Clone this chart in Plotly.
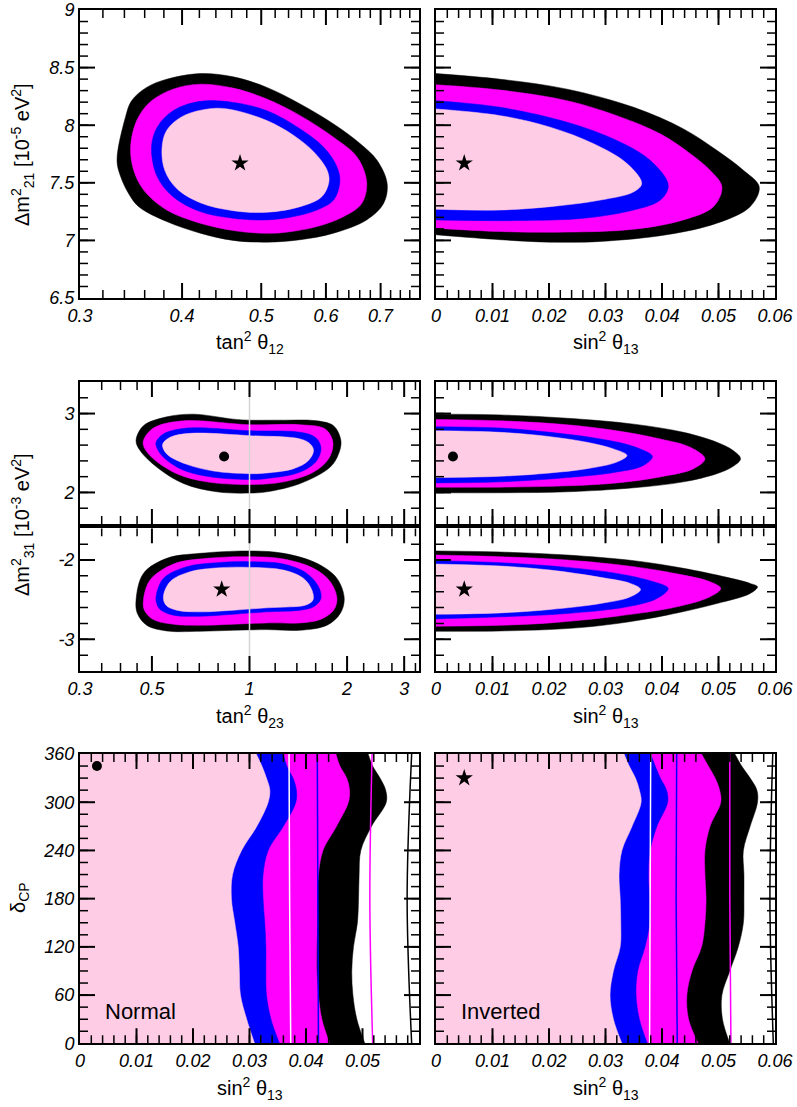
import numpy as np
import plotly.graph_objects as go

BLACK = "#000000"
MAGENTA = "#ff00ff"
BLUE = "#0000ff"
PINK = "#ffcce5"

# ---------------- panel 1: tan^2 th12 vs dm21 ----------------
t12_black_x = [0.333, 0.341, 0.347, 0.362, 0.383, 0.421, 0.462, 0.508, 0.558, 0.613, 0.661, 0.693,
               0.713, 0.706, 0.673, 0.613, 0.558, 0.508, 0.462, 0.421, 0.383, 0.354, 0.344, 0.3365]
t12_black_y = [7.695, 8.069, 8.213, 8.328, 8.399, 8.448, 8.42, 8.328, 8.184, 8.011, 7.839, 7.695,
               7.494, 7.322, 7.178, 7.063, 7.006, 6.985, 7.0, 7.063, 7.164, 7.293, 7.408, 7.552]
t12_mag_x = [0.346, 0.352, 0.365, 0.390, 0.421, 0.462, 0.508, 0.558, 0.613, 0.655, 0.673, 0.664,
             0.631, 0.585, 0.533, 0.499, 0.462, 0.421, 0.383, 0.359, 0.349]
t12_mag_y = [7.81, 8.04, 8.198, 8.313, 8.356, 8.322, 8.227, 8.083, 7.896, 7.724, 7.508, 7.322,
             7.207, 7.12, 7.069, 7.063, 7.086, 7.149, 7.264, 7.437, 7.609]
t12_blue_x = [0.367, 0.373, 0.390, 0.421, 0.462, 0.508, 0.558, 0.596, 0.619, 0.624, 0.613, 0.585,
              0.548, 0.508, 0.462, 0.421, 0.390, 0.373]
t12_blue_y = [7.81, 7.983, 8.126, 8.207, 8.198, 8.126, 7.968, 7.81, 7.638, 7.508, 7.35, 7.264,
              7.207, 7.178, 7.192, 7.25, 7.379, 7.552]
t12_pink_x = [0.378, 0.383, 0.402, 0.437, 0.462, 0.508, 0.548, 0.580, 0.602, 0.605, 0.593, 0.558,
              0.508, 0.462, 0.421, 0.394, 0.381]
t12_pink_y = [7.796, 7.954, 8.083, 8.146, 8.132, 8.04, 7.911, 7.767, 7.609, 7.508, 7.379, 7.293,
              7.244, 7.258, 7.327, 7.451, 7.609]
best12 = (0.471, 7.67)

# ---------------- panel 2: sin^2 th13 vs dm21 ----------------
s13a_black_x = [0, 0.0114, 0.0232, 0.035, 0.0438, 0.0497, 0.0544, 0.0572, 0.0556, 0.0497, 0.0408,
                0.0291, 0.0202, 0.0114, 0]
s13a_black_y = [8.448, 8.399, 8.313, 8.155, 7.968, 7.782, 7.609, 7.465, 7.293, 7.149, 7.049,
                6.991, 6.985, 7.006, 7.049]
s13a_mag_x = [0, 0.0114, 0.0232, 0.032, 0.0397, 0.045, 0.0485, 0.0506, 0.0491, 0.0438, 0.035,
              0.0232, 0.0114, 0]
s13a_mag_y = [8.351, 8.305, 8.213, 8.083, 7.925, 7.753, 7.609, 7.465, 7.293, 7.178, 7.097,
              7.072, 7.077, 7.106]
s13a_blue_x = [0, 0.0114, 0.0232, 0.032, 0.0379, 0.0411, 0.0397, 0.035, 0.0261, 0.0143, 0]
s13a_blue_y = [8.213, 8.155, 8.026, 7.868, 7.695, 7.48, 7.35, 7.264, 7.192, 7.172, 7.178]
s13a_pink_x = [0, 0.0114, 0.0202, 0.0279, 0.0338, 0.0364, 0.035, 0.0291, 0.0202, 0.0114, 0]
s13a_pink_y = [8.141, 8.083, 7.983, 7.839, 7.667, 7.494, 7.422, 7.35, 7.293, 7.264, 7.27]
best13a = (0.005, 7.67)

# ---------------- panel 3: tan^2 th23 vs dm31 (normal) ----------------
t23n_black_x = [0.4467, 0.4708, 0.5555, 0.6715, 0.8925, 1.0, 1.274, 1.614, 1.817, 1.914, 1.883,
                1.775, 1.434, 1.131, 1.0, 0.7926, 0.6254, 0.5173, 0.4597]
t23n_black_y = [2.657, 2.845, 2.958, 2.992, 2.929, 2.916, 2.916, 2.908, 2.845, 2.657, 2.49,
                2.322, 2.113, 2.008, 1.992, 2.008, 2.113, 2.322, 2.531]
t23n_mag_x = [0.4708, 0.5053, 0.6254, 1.0, 1.434, 1.713, 1.808, 1.754, 1.576, 1.274, 1.0, 0.7383,
              0.5966, 0.5053, 0.4729]
t23n_mag_y = [2.657, 2.816, 2.908, 2.858, 2.858, 2.803, 2.636, 2.427, 2.259, 2.134, 2.100, 2.134,
              2.238, 2.427, 2.573]
t23n_blue_x = [0.5149, 0.5425, 0.6405, 1.0, 1.434, 1.595, 1.661, 1.614, 1.434, 1.131, 1.0, 0.7383,
               0.6108, 0.5362, 0.5173]
t23n_blue_y = [2.636, 2.741, 2.816, 2.782, 2.762, 2.699, 2.573, 2.406, 2.259, 2.176, 2.163, 2.205,
               2.301, 2.469, 2.573]
t23n_pink_x = [0.54, 0.5689, 0.6557, 1.0, 1.434, 1.539, 1.576, 1.521, 1.367, 1.131, 1.0, 0.774,
               0.6405, 0.5622, 0.5425]
t23n_pink_y = [2.615, 2.699, 2.749, 2.72, 2.678, 2.615, 2.531, 2.406, 2.301, 2.247, 2.238, 2.272,
               2.356, 2.469, 2.552]
best23n = (0.835, 2.456)

# ---------------- panel 4: sin^2 th13 vs dm31 (normal) ----------------
s13n_black_x = [0, 0.0114, 0.0232, 0.035, 0.0438, 0.0497, 0.0526, 0.0539, 0.0526, 0.0497, 0.0438,
                0.035, 0.0232, 0.0114, 0]
s13n_black_y = [2.992, 2.983, 2.941, 2.866, 2.762, 2.636, 2.531, 2.427, 2.331, 2.238, 2.134,
                2.059, 2.008, 1.996, 1.996]
s13n_mag_x = [0, 0.0114, 0.0232, 0.032, 0.0397, 0.045, 0.0476, 0.0456, 0.0397, 0.032, 0.0232,
              0.0114, 0]
s13n_mag_y = [2.925, 2.908, 2.858, 2.782, 2.678, 2.573, 2.427, 2.301, 2.197, 2.121, 2.084, 2.067,
              2.067]
s13n_blue_x = [0, 0.0114, 0.0202, 0.0291, 0.035, 0.0383, 0.0367, 0.032, 0.0232, 0.0114, 0]
s13n_blue_y = [2.833, 2.816, 2.762, 2.678, 2.582, 2.456, 2.343, 2.259, 2.188, 2.134, 2.121]
s13n_pink_x = [0, 0.0114, 0.0202, 0.0267, 0.0314, 0.0338, 0.032, 0.0267, 0.0202, 0.0114, 0]
s13n_pink_y = [2.782, 2.762, 2.707, 2.636, 2.552, 2.469, 2.385, 2.301, 2.247, 2.205, 2.188]
best13n = (0.003, 2.456)

# ---------------- panel 5: tan^2 th23 vs dm31 (inverted) ----------------
t23i_black_x = [0.4467, 0.4708, 0.5555, 0.704, 1.0, 1.274, 1.614, 1.861, 1.96, 1.905, 1.734, 1.434,
                1.131, 0.8925, 0.704, 0.5555, 0.4819, 0.451]
t23i_black_y = [-2.506, -2.169, -1.979, -1.916, -1.886, -1.916, -2.042, -2.232, -2.485, -2.675,
                -2.823, -2.886, -2.878, -2.886, -2.899, -2.895, -2.823, -2.675]
t23i_mag_x = [0.4708, 0.4935, 0.5826, 0.7383, 1.0, 1.274, 1.576, 1.775, 1.861, 1.817, 1.653, 1.434,
              1.131, 0.8925, 0.704, 0.5826, 0.5053, 0.474]
t23i_mag_y = [-2.506, -2.253, -2.051, -1.979, -1.958, -1.987, -2.105, -2.274, -2.485, -2.633,
              -2.751, -2.793, -2.793, -2.810, -2.823, -2.810, -2.751, -2.633]
t23i_blue_x = [0.5149, 0.5425, 0.6405, 0.7926, 1.0, 1.274, 1.503, 1.633, 1.661, 1.576, 1.434, 1.131,
               0.8925, 0.704, 0.5826, 0.5298, 0.5173]
t23i_blue_y = [-2.464, -2.232, -2.084, -2.034, -2.021, -2.051, -2.169, -2.338, -2.485, -2.591,
               -2.633, -2.654, -2.684, -2.709, -2.696, -2.624, -2.549]
t23i_pink_x = [0.5425, 0.5689, 0.6557, 0.8116, 1.0, 1.274, 1.468, 1.558, 1.569, 1.485, 1.335, 1.131,
               0.8925, 0.704, 0.5966, 0.5529]
t23i_pink_y = [-2.464, -2.274, -2.148, -2.097, -2.093, -2.127, -2.232, -2.380, -2.506, -2.570,
               -2.591, -2.603, -2.633, -2.654, -2.633, -2.570]
best23i = (0.821, -2.371)

# ---------------- panel 6: sin^2 th13 vs dm31 (inverted) ----------------
s13i_black_x = [0, 0.0114, 0.0232, 0.035, 0.0438, 0.0515, 0.0556, 0.0569, 0.0556, 0.0497, 0.0408,
                0.032, 0.0232, 0.0114, 0]
s13i_black_y = [-1.886, -1.899, -1.937, -2.008, -2.105, -2.219, -2.295, -2.338, -2.422, -2.549,
                -2.696, -2.802, -2.865, -2.895, -2.899]
s13i_mag_x = [0, 0.0114, 0.0232, 0.035, 0.0438, 0.0485, 0.0504, 0.0485, 0.0426, 0.032, 0.0202,
              0.0114, 0]
s13i_mag_y = [-1.937, -1.958, -2.0, -2.084, -2.19, -2.274, -2.359, -2.464, -2.591, -2.709, -2.793,
              -2.823, -2.835]
s13i_blue_x = [0, 0.0114, 0.0232, 0.032, 0.0385, 0.0411, 0.0391, 0.0338, 0.0232, 0.0114, 0]
s13i_blue_y = [-2.008, -2.034, -2.093, -2.169, -2.274, -2.359, -2.485, -2.591, -2.675, -2.717,
               -2.743]
s13i_pink_x = [0, 0.0114, 0.0202, 0.0291, 0.0344, 0.0362, 0.0344, 0.0291, 0.0202, 0.0114, 0]
s13i_pink_y = [-2.051, -2.076, -2.127, -2.219, -2.295, -2.371, -2.464, -2.549, -2.624, -2.667,
               -2.684]
best13i = (0.005, -2.371)

# ---------------- panels 7/8: sin^2 th13 vs delta_CP ----------------
delta = [0, 30, 60, 90, 120, 150, 180, 210, 240, 270, 300, 315, 330, 345, 360]
nh_pink = [0.0309, 0.0295, 0.0284, 0.0282, 0.028, 0.0274, 0.0268, 0.027, 0.0286, 0.0313, 0.0333,
           0.0336, 0.033, 0.0322, 0.0312]
nh_blue = [0.0353, 0.0338, 0.033, 0.0329, 0.0329, 0.0327, 0.0324, 0.0324, 0.0333, 0.036, 0.0382,
           0.0383, 0.0377, 0.0366, 0.036]
nh_mag = [0.0442, 0.0428, 0.0422, 0.0419, 0.0419, 0.042, 0.042, 0.0422, 0.043, 0.0454, 0.0475,
          0.0477, 0.0472, 0.046, 0.0453]
nh_black = [0.0504, 0.049, 0.0483, 0.0481, 0.0484, 0.0491, 0.0493, 0.0494, 0.0497, 0.0516, 0.0542,
            0.0541, 0.0531, 0.0518, 0.051]
ih_pink = [0.0329, 0.0314, 0.0308, 0.0314, 0.0326, 0.0327, 0.0326, 0.0324, 0.0329, 0.0347, 0.0363,
           0.036, 0.0353, 0.0342, 0.0333]
ih_blue = [0.0374, 0.036, 0.0354, 0.0357, 0.037, 0.0378, 0.0378, 0.0376, 0.0379, 0.0391, 0.041,
           0.0408, 0.0397, 0.0388, 0.038]
ih_mag = [0.0464, 0.0447, 0.0444, 0.0453, 0.047, 0.0476, 0.0478, 0.0476, 0.0476, 0.0485, 0.0504,
          0.0502, 0.0494, 0.0482, 0.047]
ih_black = [0.052, 0.0507, 0.0506, 0.052, 0.0535, 0.0544, 0.0545, 0.0545, 0.0544, 0.0556, 0.0569,
            0.0568, 0.0556, 0.0541, 0.0529]

line_delta = [0, 180, 360]
nh_lines = {"white": [0.0373, 0.0371, 0.037], BLUE: [0.0422, 0.0421, 0.042],
            MAGENTA: [0.0518, 0.0513, 0.0517], BLACK: [0.0587, 0.0579, 0.0587]}
ih_lines = {"white": [0.0378, 0.0379, 0.038], BLUE: [0.0427, 0.0425, 0.0426],
            MAGENTA: [0.0522, 0.052, 0.052], BLACK: [0.0597, 0.0591, 0.0596]}
best_nh = (0.003, 345)
best_ih = (0.005, 330)

# ---------------- tick values ----------------
s13_vals = [0, 0.01, 0.02, 0.03, 0.04, 0.05, 0.06]
s13_text = ["0", "0.01", "0.02", "0.03", "0.04", "0.05", "0.06"]
s13_minor = [float(v) for v in np.arange(0.002, 0.06, 0.002)]
t12_vals = [0.3, 0.4, 0.5, 0.6, 0.7]
t12_minor = [0.32, 0.34, 0.36, 0.38, 0.42, 0.44, 0.46, 0.48, 0.52, 0.54, 0.56, 0.58,
             0.62, 0.64, 0.66, 0.68, 0.72, 0.74, 0.76]
t23_vals = [0.3, 0.5, 1, 2, 3]
t23_minor = [0.35, 0.4, 0.45, 0.6, 0.7, 0.8, 0.9, 1.2, 1.4, 1.6, 1.8, 2.25, 2.5, 2.75, 3.25]
dm21_vals = [6.5, 7, 7.5, 8, 8.5, 9]
dm21_text = ["6.5", "7", "7.5", "8", "8.5", "9"]
dm21_minor = [float(v) for v in np.arange(6.6, 9.0, 0.1)]
dm31n_minor = [float(v) for v in np.arange(1.8, 3.4, 0.2)]
dm31i_minor = [float(v) for v in np.arange(-3.2, -1.6, 0.2)]
dcp_vals = [0, 60, 120, 180, 240, 300, 360]
dcp_minor = list(range(15, 360, 15))

W, H = 797, 1107
def xd(a, b):
    return [a / W, b / W]
def ydom(top, bot):
    return [1 - bot / H, 1 - top / H]
XL = xd(80, 419)
XR = xd(436, 775)
Y1 = ydom(10, 298)
Y2 = ydom(382, 524)
Y3 = ydom(528.3, 671)
Y4 = ydom(754, 1043.3)

fig = go.Figure()

def refs(n):
    return ("x" if n == 1 else f"x{n}"), ("y" if n == 1 else f"y{n}")

def region(n, xs, ys, color, closed):
    xa, ya = refs(n)
    if closed:
        xs, ys = xs + xs[:1], ys + ys[:1]
    fig.add_trace(go.Scatter(x=xs, y=ys, mode="lines", fill="toself", fillcolor=color,
                             line=dict(color=color, width=0.5, shape="spline", smoothing=1),
                             hoverinfo="skip", showlegend=False, xaxis=xa, yaxis=ya))

def band(n, xs, color):
    xa, ya = refs(n)
    fig.add_trace(go.Scatter(x=xs, y=delta, mode="lines", fill="tozerox", fillcolor=color,
                             line=dict(color=color, width=0.5, shape="spline", smoothing=1),
                             hoverinfo="skip", showlegend=False, xaxis=xa, yaxis=ya))

def vline(n, xs, color):
    xa, ya = refs(n)
    fig.add_trace(go.Scatter(x=xs, y=line_delta, mode="lines",
                             line=dict(color=color, width=1.5, shape="spline"),
                             hoverinfo="skip", showlegend=False, xaxis=xa, yaxis=ya))

def marker(n, pt, symbol, size):
    xa, ya = refs(n)
    fig.add_trace(go.Scatter(x=[pt[0]], y=[pt[1]], mode="markers",
                             marker=dict(color="black", symbol=symbol, size=size, line=dict(width=0)),
                             hoverinfo="skip", showlegend=False, xaxis=xa, yaxis=ya))

for n, closed, sets in [
    (1, True, [(t12_black_x, t12_black_y), (t12_mag_x, t12_mag_y), (t12_blue_x, t12_blue_y), (t12_pink_x, t12_pink_y)]),
    (2, False, [(s13a_black_x, s13a_black_y), (s13a_mag_x, s13a_mag_y), (s13a_blue_x, s13a_blue_y), (s13a_pink_x, s13a_pink_y)]),
    (3, True, [(t23n_black_x, t23n_black_y), (t23n_mag_x, t23n_mag_y), (t23n_blue_x, t23n_blue_y), (t23n_pink_x, t23n_pink_y)]),
    (4, False, [(s13n_black_x, s13n_black_y), (s13n_mag_x, s13n_mag_y), (s13n_blue_x, s13n_blue_y), (s13n_pink_x, s13n_pink_y)]),
    (5, True, [(t23i_black_x, t23i_black_y), (t23i_mag_x, t23i_mag_y), (t23i_blue_x, t23i_blue_y), (t23i_pink_x, t23i_pink_y)]),
    (6, False, [(s13i_black_x, s13i_black_y), (s13i_mag_x, s13i_mag_y), (s13i_blue_x, s13i_blue_y), (s13i_pink_x, s13i_pink_y)]),
]:
    for (xs, ys), c in zip(sets, [BLACK, MAGENTA, BLUE, PINK]):
        region(n, xs, ys, c, closed)

# grey line at maximal mixing
for n, yr in [(3, [1.6, 3.4]), (5, [-3.4, -1.6])]:
    xa, ya = refs(n)
    fig.add_trace(go.Scatter(x=[1, 1], y=yr, mode="lines", line=dict(color="#d4d4d4", width=1.5),
                             hoverinfo="skip", showlegend=False, xaxis=xa, yaxis=ya))

for n, bands, lines in [(7, [nh_black, nh_mag, nh_blue, nh_pink], nh_lines),
                        (8, [ih_black, ih_mag, ih_blue, ih_pink], ih_lines)]:
    for xs, c in zip(bands, [BLACK, MAGENTA, BLUE, PINK]):
        band(n, xs, c)
    for c, xs in lines.items():
        vline(n, xs, c)

marker(1, best12, "star", 13)
marker(2, best13a, "star", 13)
marker(3, best23n, "circle", 10)
marker(4, best13n, "circle", 10)
marker(5, best23i, "star", 13)
marker(6, best13i, "star", 13)
marker(7, best_nh, "circle", 10)
marker(8, best_ih, "star", 13)

TICKFONT = dict(family="Liberation Sans", size=18, style="italic", color="black")

def axis(domain, anchor, rng, tickvals, ticktext, log=False, labels=True):
    if not labels:
        ticktext = [""] * len(tickvals)
    d = dict(domain=domain, anchor=anchor, range=rng, showline=True, linecolor="black",
             linewidth=2, mirror=True, ticks="", showgrid=False, zeroline=False,
             tickfont=TICKFONT, tickmode="array", tickvals=tickvals, ticktext=ticktext)
    if log:
        d["type"] = "log"
    return d

lt12 = [float(np.log10(0.3)), float(np.log10(0.78))]
lt23 = [float(np.log10(0.3)), float(np.log10(10 / 3))]
t12_text = [str(v) for v in t12_vals]
t23_text = [str(v) for v in t23_vals]
dcp_text = [str(v) for v in dcp_vals]

fig.update_layout(
    xaxis=axis(XL, "y", lt12, t12_vals, t12_text, log=True),
    yaxis=axis(Y1, "x", [6.5, 9], dm21_vals, dm21_text),
    xaxis2=axis(XR, "y2", [0, 0.06], s13_vals, s13_text),
    yaxis2=axis(Y1, "x2", [6.5, 9], dm21_vals, dm21_text, labels=False),
    xaxis3=axis(XL, "y3", lt23, t23_vals, t23_text, log=True, labels=False),
    yaxis3=axis(Y2, "x3", [1.6, 3.4], [2, 3], ["2", "3"]),
    xaxis4=axis(XR, "y4", [0, 0.06], s13_vals, s13_text, labels=False),
    yaxis4=axis(Y2, "x4", [1.6, 3.4], [2, 3], ["2", "3"], labels=False),
    xaxis5=axis(XL, "y5", lt23, t23_vals, t23_text, log=True),
    yaxis5=axis(Y3, "x5", [-3.4, -1.6], [-3, -2], ["-3", "-2"]),
    xaxis6=axis(XR, "y6", [0, 0.06], s13_vals, s13_text),
    yaxis6=axis(Y3, "x6", [-3.4, -1.6], [-3, -2], ["-3", "-2"], labels=False),
    xaxis7=axis(XL, "y7", [0, 0.06], s13_vals[:-1], s13_text[:-1]),
    yaxis7=axis(Y4, "x7", [0, 360], dcp_vals, dcp_text),
    xaxis8=axis(XR, "y8", [0, 0.06], s13_vals, s13_text),
    yaxis8=axis(Y4, "x8", [0, 360], dcp_vals, dcp_text, labels=False),
)

# inside ticks on all four sides of every panel, drawn as line traces on top
def tick_traces(n, xrng, xlog, xmaj, xmin, yrng, ymaj, ymin, wpx, hpx):
    xa, ya = refs(n)
    def xfrac(v):
        v = np.log10(v) if xlog else v
        return (v - xrng[0]) / (xrng[1] - xrng[0])
    def xpos(f):
        v = xrng[0] + f * (xrng[1] - xrng[0])
        return float(10 ** v) if xlog else float(v)
    def yfrac(v):
        return (v - yrng[0]) / (yrng[1] - yrng[0])
    def ypos(f):
        return float(yrng[0] + f * (yrng[1] - yrng[0]))
    for xvals, yvals, ln, lw in [(xmaj, ymaj, 15, 2), (xmin, ymin, 8, 1.5)]:
        xs, ys = [], []
        for v in xvals:
            if 0.002 < xfrac(v) < 0.998:
                xs += [v, v, None, v, v, None]
                ys += [ypos(0), ypos(ln / hpx), None, ypos(1), ypos(1 - ln / hpx), None]
        for v in yvals:
            if 0.002 < yfrac(v) < 0.998:
                xs += [xpos(0), xpos(ln / wpx), None, xpos(1), xpos(1 - ln / wpx), None]
                ys += [v, v, None, v, v, None]
        fig.add_trace(go.Scatter(x=xs, y=ys, mode="lines", line=dict(color="black", width=lw),
                                 hoverinfo="skip", showlegend=False, xaxis=xa, yaxis=ya))

tick_traces(1, lt12, True, t12_vals, t12_minor, [6.5, 9], dm21_vals, dm21_minor, 339, 288)
tick_traces(2, [0, 0.06], False, s13_vals, s13_minor, [6.5, 9], dm21_vals, dm21_minor, 339, 288)
tick_traces(3, lt23, True, t23_vals, t23_minor, [1.6, 3.4], [2, 3], dm31n_minor, 339, 142)
tick_traces(4, [0, 0.06], False, s13_vals, s13_minor, [1.6, 3.4], [2, 3], dm31n_minor, 339, 142)
tick_traces(5, lt23, True, t23_vals, t23_minor, [-3.4, -1.6], [-3, -2], dm31i_minor, 339, 143)
tick_traces(6, [0, 0.06], False, s13_vals, s13_minor, [-3.4, -1.6], [-3, -2], dm31i_minor, 339, 143)
tick_traces(7, [0, 0.06], False, s13_vals, s13_minor, [0, 360], dcp_vals, dcp_minor, 339, 289)
tick_traces(8, [0, 0.06], False, s13_vals, s13_minor, [0, 360], dcp_vals, dcp_minor, 339, 289)

TITLEFONT = dict(family="Liberation Sans", size=20, color="black")
def label(x_px, y_px, text, angle=0, anchor="center", font=TITLEFONT):
    fig.add_annotation(x=x_px / W, y=1 - y_px / H, xref="paper", yref="paper",
                       text=text, showarrow=False, textangle=angle, xanchor=anchor,
                       yanchor="middle", font=font)

label(249.5, 343, "tan<sup>2</sup> θ<sub>12</sub>")
label(605.5, 343, "sin<sup>2</sup> θ<sub>13</sub>")
label(249.5, 716, "tan<sup>2</sup> θ<sub>23</sub>")
label(605.5, 716, "sin<sup>2</sup> θ<sub>13</sub>")
label(249.5, 1088, "sin<sup>2</sup> θ<sub>13</sub>")
label(605.5, 1088, "sin<sup>2</sup> θ<sub>13</sub>")
label(22, 155, "Δm<sup>2</sup><sub>21</sub> [10<sup>-5</sup> eV<sup>2</sup>]", angle=-90)
label(22, 525, "Δm<sup>2</sup><sub>31</sub> [10<sup>-3</sup> eV<sup>2</sup>]", angle=-90)
label(19, 898, "δ<sub>CP</sub>", angle=-90)
label(103, 1011, "Normal", anchor="left", font=dict(family="Liberation Sans", size=22, color="black"))
label(459, 1011, "Inverted", anchor="left", font=dict(family="Liberation Sans", size=22, color="black"))

fig.update_layout(width=W, height=H, margin=dict(l=0, r=0, t=0, b=0, autoexpand=False),
                  paper_bgcolor="white", plot_bgcolor="white", showlegend=False)

# drop the browser's default 8 px page margin so the figure sits at the window corner
fig.write_html("out.html", config={"displayModeBar": False},
               post_script="document.body.style.margin = '0px';")
